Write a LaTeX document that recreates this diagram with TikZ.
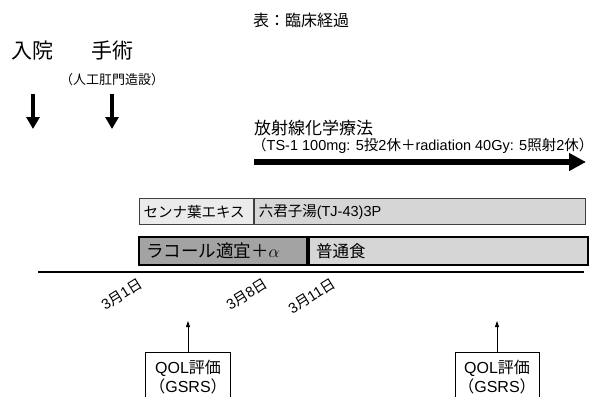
\documentclass[tikz,border=0pt]{standalone}
\usepackage{fontspec}
\setmainfont{Noto Sans CJK JP}
\newfontfamily\lat{Liberation Sans}
\usetikzlibrary{arrows.meta}
\definecolor{lightcell}{HTML}{EBEBEB}
\definecolor{midcell}{HTML}{D6D6D6}
\definecolor{darkcell}{HTML}{A3A3A3}
\definecolor{cellborder}{HTML}{404040}
\tikzset{
  lbl/.style={inner sep=0pt},
  cellA/.style={draw=cellborder, line width=1.2pt, minimum height=26pt, inner xsep=4pt, inner ysep=0pt, align=left, font=\fontsize{14.5}{16}\selectfont, anchor=north west},
  cellB/.style={draw=black, line width=2pt, minimum height=28pt, inner xsep=7pt, inner ysep=0pt, align=left, font=\fontsize{16.5}{18}\selectfont, anchor=north west},
  bigdown/.style={line width=4pt, -{Triangle[width=13pt,length=12pt]}},
  datelbl/.style={inner sep=0pt, rotate=32, anchor=east, font=\fontsize{14.5}{15}\selectfont},
  qolbox/.style={draw=black, line width=1pt, minimum width=84pt, minimum height=60pt, anchor=north, align=center, font=\fontsize{16}{19}\selectfont, text depth=12pt},
  thin/.style={line width=0.8pt, -{Triangle[width=4pt,length=6pt]}}
}
\begin{document}
\begin{tikzpicture}[x=1pt,y=1pt]
\useasboundingbox (0,0) rectangle (599,-396);
% title
\node[lbl, font=\fontsize{16}{18}\selectfont] (title) at (301,-20) {表：臨床経過};
% events
\node[lbl, font=\fontsize{21}{23}\selectfont] (nyuin) at (33,-51) {入院};
\node[lbl, font=\fontsize{21}{23}\selectfont] (shujutsu) at (112,-51) {手術};
\node[lbl, font=\fontsize{13}{14}\selectfont] (jinko) at (112,-80) {（人工肛門造設）};
\coordinate (n1) at (33,-94);
\coordinate (n2) at (33,-129);
\coordinate (s1) at (112,-94);
\coordinate (s2) at (112,-129);
\draw[bigdown] (n1) -- (n2);
\draw[bigdown] (s1) -- (s2);
% radiation chemo
\node[lbl, anchor=west, font=\fontsize{17}{19}\selectfont] (hoshasen) at (254,-128) {放射線化学療法};
\node[lbl, anchor=west, font=\fontsize{14.5}{16}\selectfont] (ts1) at (252,-146) {（{\lat TS-1 100mg: 5}投{\lat 2}休＋{\lat radiation 40Gy: 5}照射{\lat 2}休）};
\coordinate (r1) at (254,-162);
\coordinate (r2) at (586,-162);
\draw[line width=5.5pt, -{Triangle[width=17pt,length=17pt]}] (r1) -- (r2);
% row 1
\node[cellA, fill=lightcell, text width=106pt] (senna) at (139,-198) {センナ葉エキス};
\node[cellA, fill=midcell, text width=323pt] (rikkun) at (senna.north east) {六君子湯{\lat (TJ-43)3P}};
% row 2
\node[cellB, fill=darkcell, text width=154pt, font=\fontsize{17.5}{19}\selectfont] (racol) at (138,-236) {ラコール適宜＋$\alpha$};
\node[cellB, fill=midcell, text width=265pt] (futsu) at (racol.north east) {普通食};
% time line
\coordinate (t1) at (38,-272);
\coordinate (t2) at (584,-272);
\draw[line width=2.5pt] (t1) -- (t2);
\node[datelbl] (d1) at (141,-282) {{\lat 3}月{\lat 1}日};
\node[datelbl] (d8) at (266,-282) {{\lat 3}月{\lat 8}日};
\node[datelbl] (d11) at (334,-282) {{\lat 3}月{\lat 11}日};
% QOL
\node[qolbox] (q1) at (188,-352) {{\lat QOL}評価\\（{\lat GSRS}）};
\node[qolbox] (q2) at (497,-352) {{\lat QOL}評価\\（{\lat GSRS}）};
\coordinate (qa1) at (188,-321);
\coordinate (qa2) at (497,-321);
\draw[thin] (q1.north) -- (qa1);
\draw[thin] (q2.north) -- (qa2);
\end{tikzpicture}
\end{document}
